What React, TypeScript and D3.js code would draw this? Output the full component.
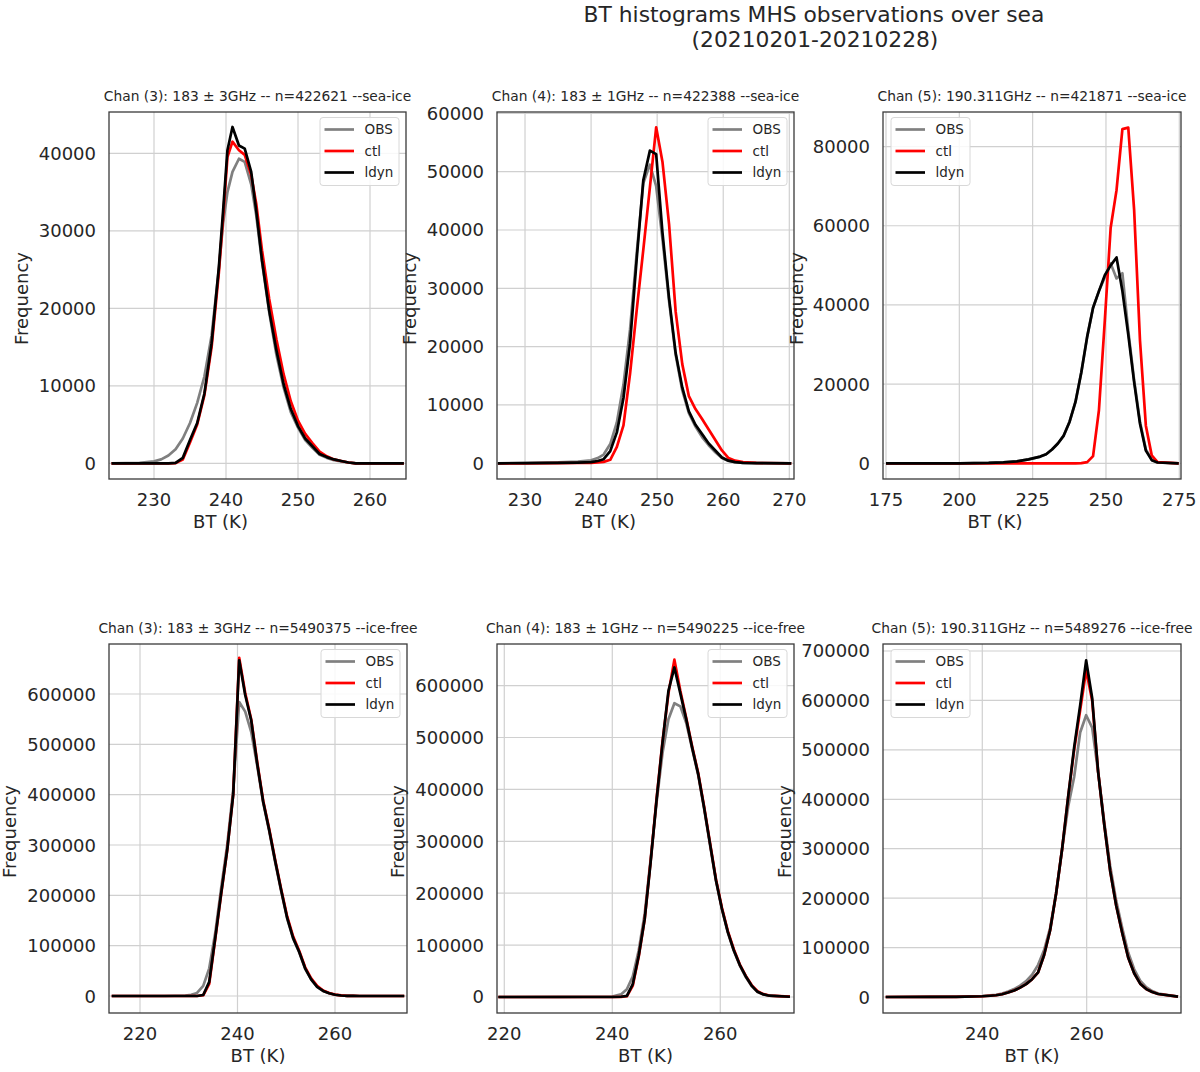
import React from "react";
import * as d3 from "d3";

// ---------- DATA ----------
const SUPTITLE = ["BT histograms MHS observations over sea", "(20210201-20210228)"];
const SERIES_NAMES = ["OBS", "ctl", "ldyn"];
const SERIES_COLORS = ["#808080", "#ff0000", "#000000"];

const PANEL_TITLES = [
  "Chan (3): 183 ± 3GHz -- n=422621 --sea-ice",
  "Chan (4): 183 ± 1GHz -- n=422388 --sea-ice",
  "Chan (5): 190.311GHz -- n=421871 --sea-ice",
  "Chan (3): 183 ± 3GHz -- n=5490375 --ice-free",
  "Chan (4): 183 ± 1GHz -- n=5490225 --ice-free",
  "Chan (5): 190.311GHz -- n=5489276 --ice-free",
];

// Panel 1
const P1_BT = [224.1, 228, 230, 231, 232, 233, 234, 235, 236, 237, 238, 239, 239.6, 240.2, 240.9, 241.8, 242.6, 243.5, 244.2, 245, 246, 247, 248, 249, 250, 251, 252, 253, 254, 255, 256, 257, 258, 260, 264.7];
const P1_OBS = [0, 50, 250, 500, 1000, 1800, 3200, 5200, 7800, 11200, 16500, 25000, 31000, 35000, 37600, 39300, 38900, 36000, 32000, 26000, 19500, 14000, 9800, 6600, 4600, 3000, 2000, 1100, 700, 400, 250, 100, 30, 0, 0];
const P1_CTL = [0, 0, 0, 0, 0, 30, 500, 2700, 5000, 8800, 15000, 24500, 31800, 39500, 41500, 40400, 39800, 37200, 33500, 27500, 21200, 16000, 11500, 8000, 5500, 3800, 2600, 1500, 900, 500, 300, 100, 0, 0, 0];
const P1_LDYN = [0, 0, 0, 0, 0, 50, 700, 3000, 5200, 9000, 15500, 25200, 32600, 40400, 43400, 41000, 40600, 37600, 32600, 26200, 19700, 14600, 10200, 7000, 4800, 3200, 2200, 1200, 800, 500, 300, 100, 0, 0, 0];

// Panel 2
const P2_BT = [225.9, 230, 235, 238, 240, 241, 241.9, 242.9, 243.9, 244.9, 245.9, 246.9, 247.9, 248.9, 249.85, 250.8, 251.8, 252.8, 253.8, 254.8, 255.8, 256.8, 257.8, 258.8, 259.8, 260.8, 261.8, 263, 265, 270.3];
const P2_OBS = [0, 50, 150, 300, 500, 900, 1500, 3300, 7000, 13500, 23000, 36000, 48000, 51200, 47500, 38500, 27800, 18600, 12500, 8600, 6300, 4500, 3100, 1900, 900, 400, 200, 80, 20, 0];
const P2_CTL = [0, 0, 20, 50, 80, 150, 250, 600, 2800, 6500, 15400, 26200, 36600, 47300, 57600, 51700, 41000, 26000, 17000, 11500, 9300, 7600, 5800, 4000, 2200, 900, 450, 200, 60, 0];
const P2_LDYN = [0, 20, 60, 120, 200, 400, 700, 2100, 5300, 11200, 20600, 35000, 48500, 53600, 53000, 39600, 28300, 18900, 13000, 8900, 6600, 5000, 3400, 2200, 1000, 450, 200, 80, 20, 0];

// Panel 3
const P3_BT = [175, 190, 200, 205, 210, 215, 219.6, 223.6, 227.6, 229.6, 231.6, 233.6, 235.6, 237.6, 239.6, 241.6, 243.6, 245.6, 247.6, 249.6, 251.6, 253.6, 255.6, 257.6, 259.6, 261.6, 263.6, 265.6, 267.6, 274.8];
const P3_OBS = [0, 0, 0, 50, 100, 250, 500, 1000, 1700, 2300, 3500, 5000, 7000, 10500, 15500, 23000, 32000, 39300, 43500, 47000, 50500, 46700, 48000, 33500, 21000, 10500, 3500, 900, 200, 0];
const P3_CTL = [0, 0, 0, 0, 0, 0, 0, 0, 0, 0, 0, 0, 0, 0, 0, 50, 300, 1800, 13400, 36000, 59500, 69000, 84400, 84800, 64000, 31000, 9500, 2000, 300, 0];
const P3_LDYN = [0, 0, 0, 50, 100, 250, 500, 1000, 1700, 2300, 3500, 5000, 7000, 10500, 15500, 23000, 32000, 39300, 43500, 47500, 50000, 52000, 43500, 32500, 20500, 10000, 3200, 800, 200, 0];

// Panel 4
const P4_BT = [214.2, 225, 229.3, 230.5, 231.7, 232.97, 234.2, 235.43, 236.66, 237.89, 239.12, 240.35, 241.58, 242.81, 244.04, 245.27, 246.5, 247.73, 248.96, 250.19, 251.42, 252.65, 253.88, 255.11, 256.34, 257.57, 258.8, 260.03, 261.26, 262.49, 263.72, 265, 274.2];
const P4_OBS = [0, 0, 1000, 2500, 6000, 20000, 55000, 125000, 215000, 300000, 410000, 584000, 565000, 525000, 458000, 384000, 328000, 266000, 208000, 154000, 114000, 87000, 54000, 33000, 18000, 10000, 5500, 2500, 1000, 400, 100, 0, 0];
const P4_CTL = [0, 0, 0, 0, 0, 1500, 24000, 113000, 203000, 290000, 400000, 672000, 602000, 550000, 465000, 388000, 332000, 270000, 212000, 158000, 118000, 90000, 57000, 35000, 20000, 11000, 6000, 2800, 1100, 400, 100, 0, 0];
const P4_LDYN = [0, 0, 0, 0, 0, 2000, 28000, 115000, 205000, 290000, 400000, 667000, 598000, 548000, 462000, 386000, 330000, 268000, 210000, 155000, 115000, 88000, 55000, 33000, 18000, 10000, 5500, 2500, 1000, 400, 100, 0, 0];

// Panel 5
const P5_BT = [218.9, 230, 235, 240, 241.6, 242.7, 243.8, 244.9, 246, 247.1, 248.2, 249.3, 250.4, 251.5, 252.6, 253.7, 254.8, 255.9, 257, 258.1, 259.2, 260.3, 261.4, 262.5, 263.6, 264.7, 265.8, 266.9, 268, 269.1, 272.9];
const P5_OBS = [0, 200, 500, 1000, 5000, 15000, 40000, 90000, 160000, 265000, 375000, 470000, 535000, 566000, 560000, 528000, 478000, 428000, 363000, 293000, 224000, 169000, 124000, 89000, 61000, 39000, 21000, 9500, 4800, 2400, 500];
const P5_CTL = [0, 0, 0, 0, 300, 1500, 22000, 78000, 150000, 262000, 382000, 492000, 585000, 650000, 590000, 537000, 482000, 432000, 367000, 297000, 227000, 172000, 127000, 92000, 63000, 41000, 23000, 11000, 5500, 2800, 600];
const P5_LDYN = [0, 0, 0, 0, 500, 2000, 25000, 80000, 150000, 260000, 380000, 490000, 590000, 635000, 585000, 535000, 480000, 430000, 365000, 295000, 225000, 170000, 125000, 90000, 62000, 40000, 22000, 10000, 5000, 2500, 500];

// Panel 6
const P6_BT = [221.5, 230, 235, 240, 241.5, 242.65, 243.8, 244.95, 246.1, 247.25, 248.4, 249.55, 250.7, 251.85, 253, 254.15, 255.3, 256.45, 257.6, 258.75, 259.9, 261.05, 262.2, 263.35, 264.5, 265.65, 266.8, 267.95, 269.1, 270.25, 271.4, 272.55, 273.7, 277.5];
const P6_OBS = [0, 150, 600, 2000, 3200, 4500, 7000, 11000, 16000, 23000, 32000, 45000, 65000, 95000, 140000, 210000, 300000, 385000, 445000, 535000, 570000, 545000, 455000, 355000, 265000, 195000, 140000, 90000, 56000, 33000, 20000, 12000, 7000, 1000];
const P6_CTL = [0, 100, 400, 1500, 2500, 3500, 5500, 9000, 13000, 19000, 26000, 36000, 50000, 85000, 135000, 210000, 300000, 405000, 500000, 580000, 661000, 600000, 455000, 350000, 255000, 185000, 130000, 80000, 48000, 27000, 16000, 10000, 6000, 800];
const P6_LDYN = [0, 100, 400, 1500, 2500, 3500, 5500, 9000, 13000, 19000, 26000, 36000, 50000, 85000, 135000, 210000, 300000, 405000, 505000, 590000, 681000, 605000, 455000, 350000, 255000, 185000, 130000, 80000, 48000, 27000, 16000, 10000, 6000, 800];

// Ticks
const X_TICKS = [
  [230, 240, 250, 260],
  [230, 240, 250, 260, 270],
  [175, 200, 225, 250, 275],
  [220, 240, 260],
  [220, 240, 260],
  [240, 260],
];
const Y_TICKS = [
  [0, 10000, 20000, 30000, 40000],
  [0, 10000, 20000, 30000, 40000, 50000, 60000],
  [0, 20000, 40000, 60000, 80000],
  [0, 100000, 200000, 300000, 400000, 500000, 600000],
  [0, 100000, 200000, 300000, 400000, 500000, 600000],
  [0, 100000, 200000, 300000, 400000, 500000, 600000, 700000],
];
const X_DOMAINS = [
  [223.75, 265.0],
  [225.76, 270.71],
  [173.98, 275.58],
  [213.64, 274.77],
  [218.65, 273.65],
  [220.98, 278.07],
];
const Y_DOMAINS = [
  [-2026, 45329],
  [-2692, 60226],
  [-3966, 88737],
  [-33777, 699384],
  [-30829, 680154],
  [-32369, 714141],
];

const PANEL_DATA = [
  { bt: P1_BT, series: [P1_OBS, P1_CTL, P1_LDYN] },
  { bt: P2_BT, series: [P2_OBS, P2_CTL, P2_LDYN] },
  { bt: P3_BT, series: [P3_OBS, P3_CTL, P3_LDYN] },
  { bt: P4_BT, series: [P4_OBS, P4_CTL, P4_LDYN] },
  { bt: P5_BT, series: [P5_OBS, P5_CTL, P5_LDYN] },
  { bt: P6_BT, series: [P6_OBS, P6_CTL, P6_LDYN] },
];

// ---------- LAYOUT ----------
const FRAMES = [
  { left: 109, right: 406, top: 112, bottom: 479 },
  { left: 497, right: 794, top: 112, bottom: 479 },
  { left: 883, right: 1181, top: 112, bottom: 479 },
  { left: 109, right: 407, top: 644, bottom: 1013 },
  { left: 497, right: 794, top: 644, bottom: 1013 },
  { left: 883, right: 1181, top: 644, bottom: 1013 },
];
const LEGEND_SIDE = ["right", "right", "left", "right", "right", "left"];
const XLABEL_SHIFT = [-37, -37, -37, 0, 0, 0];
const YLABEL_OFFSET = [-81, -81, -80, -93, -93, -92];

const FONT = "'DejaVu Sans', 'Noto Sans', sans-serif";
const TEXT_COLOR = "#262626";

function Panel({ idx }: { idx: number }) {
  const f = FRAMES[idx];
  const data = PANEL_DATA[idx];
  const x = d3.scaleLinear().domain(X_DOMAINS[idx]).range([f.left, f.right]);
  const y = d3.scaleLinear().domain(Y_DOMAINS[idx]).range([f.bottom, f.top]);
  const line = d3
    .line<number>()
    .x((_, i) => x(data.bt[i]))
    .y((d) => y(d));
  const clipId = `clip-${idx}`;
  const cx = (f.left + f.right) / 2;
  const cy = (f.top + f.bottom) / 2;

  const legW = 79;
  const legH = 68;
  const legX = LEGEND_SIDE[idx] === "right" ? f.right - 86 : f.left + 8;
  const legY = f.top + 5.5;

  return (
    <g>
      <defs>
        <clipPath id={clipId}>
          <rect x={f.left} y={f.top} width={f.right - f.left} height={f.bottom - f.top} />
        </clipPath>
      </defs>
      <rect x={f.left} y={f.top} width={f.right - f.left} height={f.bottom - f.top} fill="#ffffff" />
      {X_TICKS[idx].map((t) => (
        <line key={"gx" + t} x1={x(t)} x2={x(t)} y1={f.top} y2={f.bottom} stroke="#d0d0d0" strokeWidth={1.2} />
      ))}
      {Y_TICKS[idx].map((t) => (
        <line key={"gy" + t} x1={f.left} x2={f.right} y1={y(t)} y2={y(t)} stroke="#d0d0d0" strokeWidth={1.2} />
      ))}
      <g clipPath={`url(#${clipId})`}>
        {data.series.map((s, i) => (
          <path
            key={"s" + i}
            d={line(s) || ""}
            fill="none"
            stroke={SERIES_COLORS[i]}
            strokeWidth={2.7}
            strokeLinejoin="round"
            strokeLinecap="butt"
          />
        ))}
      </g>
      <rect
        x={f.left}
        y={f.top}
        width={f.right - f.left}
        height={f.bottom - f.top}
        fill="none"
        stroke="#3a3a3a"
        strokeWidth={1.3}
      />
      {X_TICKS[idx].map((t) => (
        <text
          key={"tx" + t}
          x={x(t)}
          y={f.bottom + 27}
          textAnchor="middle"
          fontSize={18}
          fontFamily={FONT}
          fill={TEXT_COLOR}
        >
          {t}
        </text>
      ))}
      {Y_TICKS[idx].map((t) => (
        <text
          key={"ty" + t}
          x={f.left - 13}
          y={y(t) + 6.5}
          textAnchor="end"
          fontSize={18}
          fontFamily={FONT}
          fill={TEXT_COLOR}
        >
          {t}
        </text>
      ))}
      <text
        x={cx + XLABEL_SHIFT[idx]}
        y={f.bottom + 49}
        textAnchor="middle"
        fontSize={18}
        fontFamily={FONT}
        fill={TEXT_COLOR}
      >
        BT (K)
      </text>
      <text
        transform={`translate(${f.left + YLABEL_OFFSET[idx]},${cy + 3}) rotate(-90)`}
        textAnchor="middle"
        fontSize={18}
        fontFamily={FONT}
        fill={TEXT_COLOR}
      >
        Frequency
      </text>
      <text x={cx} y={f.top - 11} textAnchor="middle" fontSize={13.8} fontFamily={FONT} fill={TEXT_COLOR}>
        {PANEL_TITLES[idx]}
      </text>
      <g>
        <rect
          x={legX}
          y={legY}
          width={legW}
          height={legH}
          rx={3}
          fill="#ffffff"
          fillOpacity={0.85}
          stroke="#d8d8d8"
          strokeWidth={1}
        />
        {SERIES_NAMES.map((name, i) => {
          const ry = legY + 12 + i * 21.5;
          return (
            <g key={name}>
              <line x1={legX + 4.5} x2={legX + 34} y1={ry} y2={ry} stroke={SERIES_COLORS[i]} strokeWidth={2.7} />
              <text x={legX + 44.5} y={ry + 4.8} fontSize={13.5} fontFamily={FONT} fill={TEXT_COLOR}>
                {name}
              </text>
            </g>
          );
        })}
      </g>
    </g>
  );
}

export default function App() {
  return (
    <svg
      width={1200}
      height={1072}
      viewBox="0 0 1200 1072"
      style={{ position: "absolute", left: 0, top: 0, background: "#ffffff" }}
    >
      <rect x={0} y={0} width={1200} height={1072} fill="#ffffff" />
      <text x={814} y={22} textAnchor="middle" fontSize={21.8} fontFamily={FONT} fill={TEXT_COLOR}>
        {SUPTITLE[0]}
      </text>
      <text x={815} y={46.5} textAnchor="middle" fontSize={21.8} fontFamily={FONT} fill={TEXT_COLOR}>
        {SUPTITLE[1]}
      </text>
      {FRAMES.map((_, i) => (
        <Panel key={i} idx={i} />
      ))}
    </svg>
  );
}
